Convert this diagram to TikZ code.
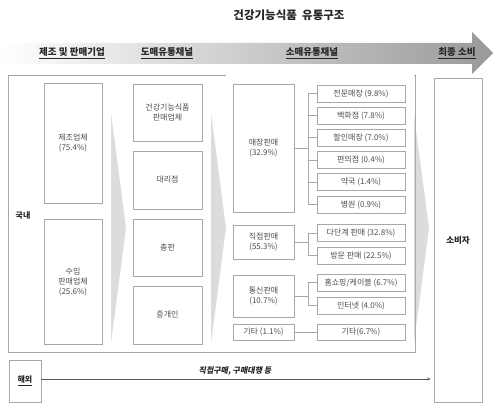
\documentclass[tikz,border=0pt]{standalone}
\usepackage{fontspec}
\setmainfont{Noto Sans CJK KR}
\newfontfamily\slfont[FakeSlant=0.2]{Noto Sans CJK KR}
\usetikzlibrary{arrows.meta}
\definecolor{boxline}{HTML}{A8A8A8}
\definecolor{grpline}{HTML}{9C9C9C}
\definecolor{boxtext}{HTML}{4D4D4D}
\definecolor{lbltext}{HTML}{262626}
\definecolor{wedge}{HTML}{DCDCDC}
\tikzset{
  bx/.style={draw=boxline, line width=0.7pt, fill=white, text=boxtext, font=\fontsize{8}{10}\selectfont, align=center, inner sep=0pt},
  grp/.style={draw=grpline, line width=0.6pt, double=white, double distance=1.4pt, inner sep=0pt},
  outerbx/.style={draw=boxline, line width=0.7pt, inner sep=0pt},
  hdr/.style={text=lbltext, font=\fontsize{9.5}{11}\selectfont\bfseries},
  lbl/.style={text=lbltext, font=\fontsize{8}{10}\selectfont\bfseries},
  conn/.style={draw=boxline, line width=0.7pt},
}
\begin{document}
\begin{tikzpicture}[x=1pt,y=-1pt]
\useasboundingbox (0,0) rectangle (500,406);
% title
\node[text=lbltext, font=\fontsize{11.5}{13}\selectfont\bfseries] (title) at (289,15) {건강기능식품\ \ 유통구조};
% big header arrow
\shade[left color=white, right color=gray!80] (0,43) -- (472,43) -- (472,32) -- (493,53) -- (472,74) -- (472,64) -- (0,64) -- cycle;
\node[hdr] (h1) at (72,53) {\underline{제조 및 판매기업}};
\node[hdr] (h2) at (167,53) {\underline{도매유통채널}};
\node[hdr] (h3) at (312,53) {\underline{소매유통채널}};
\node[hdr] (h4) at (457,53) {\underline{최종 소비}};
% wedges
\fill[wedge] (111,113) -- (126,228) -- (111,343) -- cycle;
\fill[wedge] (211,113) -- (226,228) -- (211,343) -- cycle;
\fill[wedge] (414,115) -- (429,228) -- (414,343) -- cycle;
% outer domestic box
\node[outerbx, minimum width=407pt, minimum height=277pt] (dom) at (211.5,213.5) {};
\node[lbl] (domlbl) at (23,216) {국내};
% manufacturer group
\node[grp, minimum width=67pt, minimum height=269pt] (mg) at (73.5,212.5) {};
\node[bx, minimum width=58pt, minimum height=120pt] (mfr) at (73,143) {제조업체\\(75.4\%)};
\node[bx, minimum width=58pt, minimum height=125pt] (imp) at (73,281.5) {수입\\판매업체\\(25.6\%)};
% wholesale group
\node[grp, minimum width=79pt, minimum height=269pt] (wg) at (167.5,212.5) {};
\node[bx, minimum width=69pt, minimum height=57pt] (w1) at (167.5,112.5) {건강기능식품\\판매업체};
\node[bx, minimum width=69pt, minimum height=58pt] (w2) at (167.5,180) {대리점};
\node[bx, minimum width=69pt, minimum height=57pt] (w3) at (167.5,247.5) {총판};
\node[bx, minimum width=69pt, minimum height=58pt] (w4) at (167.5,315) {중개인};
% retail group
\node[grp, minimum width=186pt, minimum height=273pt] (rg) at (320,212.5) {};
\node[bx, minimum width=61pt, minimum height=128pt] (m) at (263.5,148) {매장판매\\(32.9\%)};
\node[bx, minimum width=61pt, minimum height=34pt] (d) at (263.5,242) {직접판매\\(55.3\%)};
\node[bx, minimum width=61pt, minimum height=42pt] (t) at (263.5,296) {통신판매\\(10.7\%)};
\node[bx, minimum width=61pt, minimum height=16pt] (e) at (263.5,332) {기타 (1.1\%)};
\tikzset{sub/.style={bx, minimum width=88pt, minimum height=17pt}}
\node[sub] (s1) at (361,93.5) {전문매장 (9.8\%)};
\node[sub] (s2) at (361,115.5) {백화점 (7.8\%)};
\node[sub] (s3) at (361,137.5) {할인매장 (7.0\%)};
\node[sub] (s4) at (361,160) {편의점 (0.4\%)};
\node[sub] (s5) at (361,182) {약국 (1.4\%)};
\node[sub] (s6) at (361,204.5) {병원 (0.9\%)};
\node[sub] (d1) at (361,233) {다단계 판매 (32.8\%)};
\node[sub] (d2) at (361,255.5) {방문 판매 (22.5\%)};
\node[sub] (t1) at (361,282.5) {홈쇼핑/케이블 (6.7\%)};
\node[sub] (t2) at (361,305.5) {인터넷 (4.0\%)};
\node[sub, minimum height=16pt] (e1) at (361,332) {기타(6.7\%)};
\coordinate (bus) at (308,0);
% connectors
\draw[conn] (m.east) -- (m.east -| bus);
\draw[conn] (s1.west -| bus) -- (s6.west -| bus);
\foreach \s in {s1,s2,s3,s4,s5,s6} {\draw[conn] (\s.west) -- (\s.west -| bus);}
\draw[conn] (d.east) -- (d.east -| bus);
\draw[conn] (d1.west -| bus) -- (d2.west -| bus);
\foreach \s in {d1,d2} {\draw[conn] (\s.west) -- (\s.west -| bus);}
\draw[conn] (t.east) -- (t.east -| bus);
\draw[conn] (t1.west -| bus) -- (t2.west -| bus);
\foreach \s in {t1,t2} {\draw[conn] (\s.west) -- (\s.west -| bus);}
\draw[conn] (e.east) -- (e1.west);
% consumer
\node[bx, minimum width=48pt, minimum height=324pt, font=\fontsize{8.5}{10}\selectfont\bfseries, text=lbltext] (cons) at (458,240) {소비자};
% overseas
\node[bx, minimum width=32pt, minimum height=42pt, font=\fontsize{8}{10}\selectfont\bfseries, text=lbltext] (hw) at (25,381) {\underline{해외}};
\coordinate (arrL) at (41,379);
\draw[draw=gray!70!black, line width=0.6pt, -{Stealth[length=3.5pt,width=3pt]}, shorten >=3pt] (arrL) -- (arrL -| cons.west);
\node[text=lbltext, font=\fontsize{8}{10}\slfont\bfseries] (arrlbl) at (235,371) {직접구매, 구매대행 등};
\end{tikzpicture}
\end{document}
